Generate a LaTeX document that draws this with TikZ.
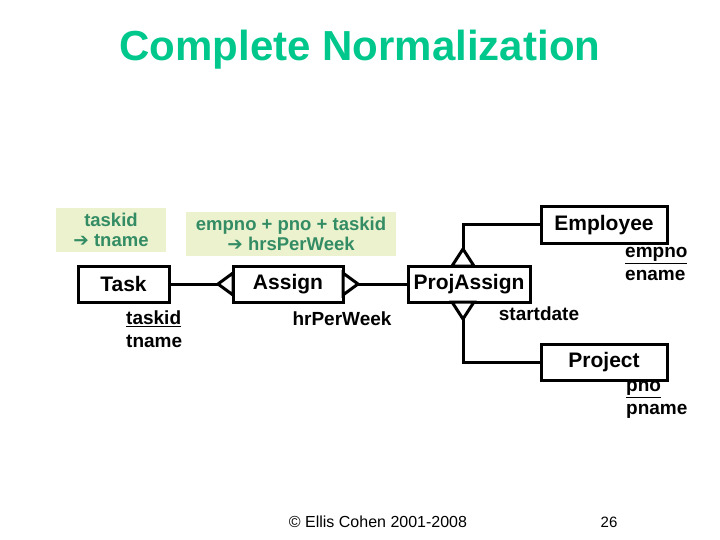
\documentclass[tikz,border=0pt]{standalone}
\usepackage{fontspec}
\setmainfont{Liberation Sans}
\newfontfamily\symf{DejaVu Sans}
\newcommand{\arr}{{\symf\bfseries ➔}}
\begin{document}
\begin{tikzpicture}[x=1pt,y=-1pt,
  ent/.style={draw,line width=3pt,minimum height=36pt,inner sep=0pt,font=\bfseries\fontsize{21}{24}\selectfont},
  fd/.style={fill=fdbg,text=fdtxt,font=\bfseries\fontsize{18.5}{20}\selectfont,align=center,inner sep=0pt},
  lbl/.style={font=\bfseries\fontsize{19}{23}\selectfont,align=left,inner sep=0pt},
  ln/.style={line width=3pt},
  crow/.style={line width=3pt,fill=white,line join=miter}]
\definecolor{fdbg}{RGB}{236,242,206}
\definecolor{fdtxt}{RGB}{51,140,100}
\definecolor{ttl}{RGB}{0,200,140}
\useasboundingbox (0,0) rectangle (720,540);
\node[font=\bfseries\fontsize{42}{46}\selectfont,text=ttl] (title) at (360,50) {Complete Normalization};
\node[fd,minimum width=110pt,minimum height=43pt] (fd1) at (111,230) {taskid\\\arr\ tname};
\node[fd,minimum width=210pt,minimum height=44pt] (fd2) at (291,234) {empno + pno + taskid\\\arr\ hrsPerWeek};
\node[ent,minimum width=91pt] (task) at (123.5,284) {Task};
\node[ent,minimum width=110pt] (assign) at (288,284) {Assign};
\node[ent,minimum width=122pt] (pa) at (469,284) {ProjAssign};
\node[ent,minimum width=126pt] (emp) at (604,225) {Employee};
\node[ent,minimum width=126pt] (proj) at (604,362) {Project};
\coordinate (ec) at (463,225);
\coordinate (pc) at (463,362);
\draw[ln] (task.east) -- (assign.west);
\draw[ln] (assign.east) -- (pa.west);
\draw[ln] (pa.north -| ec) -- (ec) -- (emp.west);
\draw[ln] (pa.south -| pc) -- (pc) -- (proj.west);
\draw[crow] (233,273) -- (218,284) -- (233,295) -- cycle;
\draw[crow] (343,273) -- (358,284) -- (343,295) -- cycle;
\draw[crow] (452,266) -- (463,249) -- (474,266) -- cycle;
\draw[crow] (452,302) -- (463,319) -- (474,302) -- cycle;
\node[lbl,anchor=north west] (l1) at (126,311) {\underline{taskid}\\tname};
\node[lbl] (l2) at (342,319) {hrPerWeek};
\node[lbl] (l3) at (539,314) {startdate};
\node[lbl,anchor=north west] (l4) at (625,247) {\underline{empno}\\ename};
\node[lbl,anchor=north west] (l5) at (626,381) {\underline{pno}\\pname};
\node[font=\fontsize{16}{18}\selectfont] (foot) at (378,522) {\textcopyright\ Ellis Cohen 2001-2008};
\node[font=\fontsize{15}{18}\selectfont] (pg) at (609,522) {26};
\end{tikzpicture}
\end{document}
